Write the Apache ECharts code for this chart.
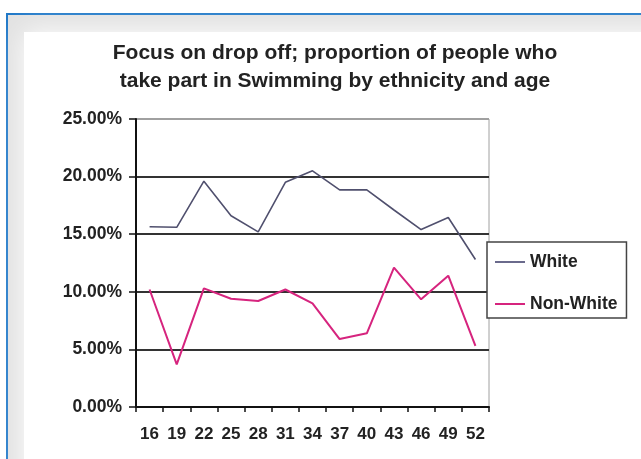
<!DOCTYPE html>
<html>
<head>
<meta charset="utf-8">
<script src="https://cdn.jsdelivr.net/npm/echarts@6/dist/echarts.min.js"></script>
<style>
  html, body { margin: 0; padding: 0; background: #fff; }
  #chart { width: 641px; height: 459px; }
</style>
</head>
<body>
<div id="chart"></div>
<script>
// Ages on the x axis
const ages = ['16', '19', '22', '25', '28', '31', '34', '37', '40', '43', '46', '49', '52'];
// Share of people taking part in swimming, in percent
const whiteValues = [15.65, 15.6, 19.6, 16.6, 15.2, 19.5, 20.5, 18.85, 18.85, 17.1, 15.4, 16.45, 12.8];
const nonWhiteValues = [10.2, 3.7, 10.3, 9.4, 9.2, 10.2, 9.0, 5.9, 6.4, 12.1, 9.35, 11.4, 5.3];
const seriesNames = ['White', 'Non-White'];

const FONT = "'Liberation Sans', Arial, sans-serif";

const chart = echarts.init(document.getElementById('chart'));
chart.setOption({
  animation: false,
  backgroundColor: '#fff',
  graphic: [
    {
      type: 'rect', z: -10, silent: true,
      shape: { x: 7, y: 14, width: 700, height: 500 },
      style: { fill: '#e2e2e2', stroke: '#1f78c8', lineWidth: 2 }
    },
    {
      type: 'rect', z: -9, silent: true,
      shape: { x: 24, y: 32, width: 700, height: 500 },
      style: { fill: '#fff', shadowBlur: 26, shadowColor: '#fff' }
    }
  ],
  title: {
    text: 'Focus on drop off; proportion of people who\ntake part in Swimming by ethnicity and age',
    left: 330, top: 34, textAlign: 'center',
    textStyle: { fontFamily: FONT, fontSize: 21, fontWeight: 'bold', color: '#222', lineHeight: 28 }
  },
  grid: { left: 136, top: 119, right: 152, bottom: 52, show: true, borderColor: '#a0a0a0', borderWidth: 1, backgroundColor: 'transparent' },
  legend: {
    orient: 'vertical', left: 487, top: 242,
    data: seriesNames,
    icon: 'rect', itemWidth: 30, itemHeight: 2, itemGap: 24,
    padding: [11, 9, 5, 8],
    borderColor: '#444', borderWidth: 1.5, backgroundColor: '#fff',
    textStyle: { fontFamily: FONT, fontSize: 17.5, fontWeight: 'bold', color: '#222' }
  },
  xAxis: {
    type: 'category', data: ages, boundaryGap: true,
    axisLine: { lineStyle: { color: '#111', width: 2 } },
    axisTick: { show: true, length: 5, alignWithLabel: false, lineStyle: { color: '#111', width: 1.5 } },
    axisLabel: { fontFamily: FONT, fontSize: 17, fontWeight: 'bold', color: '#222', margin: 19, interval: 0 },
    splitLine: { show: false }
  },
  yAxis: {
    type: 'value', min: 0, max: 25, interval: 5,
    axisLine: { show: true, lineStyle: { color: '#111', width: 2 } },
    axisTick: { show: true, length: 7, lineStyle: { color: '#111', width: 1.5 } },
    axisLabel: { fontFamily: FONT, fontSize: 17.5, fontWeight: 'bold', color: '#222', margin: 14,
      formatter: v => v.toFixed(2) + '%' },
    splitLine: { show: true, lineStyle: { color: ['#333', '#333', '#333', '#333', '#333', '#a0a0a0'], width: 2 } }
  },
  series: [
    {
      name: seriesNames[0], type: 'line', data: whiteValues,
      showSymbol: false, symbol: 'none',
      lineStyle: { color: '#50506e', width: 1.6 }, itemStyle: { color: '#6a6a8c' }
    },
    {
      name: seriesNames[1], type: 'line', data: nonWhiteValues,
      showSymbol: false, symbol: 'none',
      lineStyle: { color: '#d6247e', width: 2 }, itemStyle: { color: '#d6247e' }
    }
  ]
});
</script>
</body>
</html>
